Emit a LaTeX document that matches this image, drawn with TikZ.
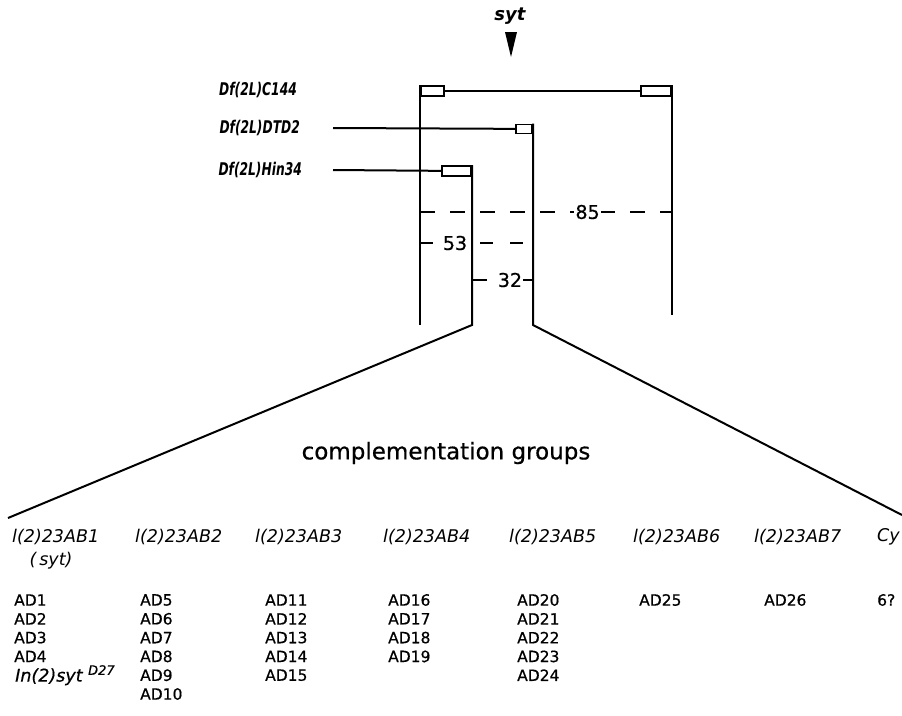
\documentclass[tikz,border=0pt]{standalone}
\usepackage{fontspec}
\setmainfont{DejaVu Sans}
\newfontfamily\dffont[FakeStretch=0.7]{DejaVu Sans}
\newfontfamily\adfont[FakeBold=0.6]{DejaVu Sans}
\begin{document}
\begin{tikzpicture}[x=1pt,y=-1pt,
  ln/.style={line width=2pt},
  thin/.style={line width=1.6pt},
  dsh/.style={line width=2pt,dash pattern=on 15pt off 15pt},
  dflab/.style={font=\dffont\fontsize{17.5}{19}\selectfont\bfseries\itshape,anchor=east,inner sep=0pt},
  hdr/.style={font=\fontsize{17.5}{20}\selectfont\itshape,anchor=west,inner sep=0pt},
  ad/.style={font=\adfont\fontsize{15.5}{18}\selectfont,anchor=west,inner sep=0pt},
  num/.style={font=\adfont\fontsize{19}{21}\selectfont,fill=white,inner sep=1pt},
  box/.style={draw,line width=1.7pt,fill=white,minimum height=10pt,inner sep=0pt}]
\useasboundingbox (0,0) rectangle (902,715);
% syt marker
\node[font=\fontsize{18}{20}\selectfont\bfseries\itshape] (syt) at (510,16) {syt};
\fill (505,32) -- (517,32) -- (511,57) -- cycle;
% deficiency labels
\node[dflab] (dfC) at (297,90) {Df(2L)C144};
\node[dflab] (dfD) at (300,128) {Df(2L)DTD2};
\node[dflab] (dfH) at (302,170) {Df(2L)Hin34};
% coordinates
\coordinate (cL) at (420,85);
\coordinate (cLb) at (420,325);
\coordinate (cR) at (672,85);
\coordinate (cRb) at (672,315);
\coordinate (dS) at (333,128);
\coordinate (dV) at (533,123.5);
\coordinate (dVb) at (533,325);
\coordinate (hS) at (333,170);
\coordinate (hV) at (472,165);
\coordinate (hVb) at (472,325);
\coordinate (fanL) at (8,518);
\coordinate (fanR) at (902,515);
% C144
\draw[thin] (cL) -- (cLb);
\draw[thin] (cR) -- (cRb);
\node[box,minimum width=23pt,anchor=north west] (bC1) at (cL) {};
\node[box,minimum width=30pt,anchor=north east] (bC2) at (cR) {};
\draw[ln] (bC1.east) -- (bC2.west);
% DTD2
\node[box,minimum width=16pt,minimum height=9pt,anchor=north east] (bD) at (dV) {};
\draw[ln] (dS) -- (bD.west);
\draw[ln] (bD.north east) -- (dVb) -- (fanR);
% Hin34
\node[box,minimum width=29pt,anchor=north east] (bH) at (hV) {};
\draw[ln] (hS) -- (bH.west);
\draw[ln] (bH.north east) -- (hVb) -- (fanL);
% dashed size lines
\coordinate (e85a) at (420,212); \coordinate (e85b) at (672,212);
\coordinate (e53a) at (420,243); \coordinate (e53b) at (533,243);
\coordinate (e32a) at (472,280); \coordinate (e32b) at (533,280);
\draw[dsh] (e85a) -- (e85b) node[num,pos=0.665] (n85) {85};
\draw[dsh,dash pattern=on 13pt off 17pt] (e53a) -- (e53b) node[num,pos=0.31] (n53) {53};
\node[num] (n32) at (510,280) {32};
\draw[ln] (e32a) -- ++(15,0);
\draw[ln] (n32.east) -- (e32b);
% complementation groups
\node[font=\adfont\fontsize{23}{26}\selectfont] (cg) at (446,453) {complementation groups};
% headers
\foreach \x/\t [count=\i] in {12/l(2)23AB1,135/l(2)23AB2,255/l(2)23AB3,383/l(2)23AB4,509/l(2)23AB5,633/l(2)23AB6,754/l(2)23AB7,877/Cy}
  \node[hdr] (h\i) at (\x,537) {\t};
\node[font=\fontsize{17.5}{20}\selectfont\itshape] (hsyt) at (51,561) {(\,syt)};
% AD columns
\foreach \t [count=\i from 0] in {AD1,AD2,AD3,AD4}
  \node[ad] (a1\i) at (14,{600+18.8*\i}) {\t};
\node[ad,font=\adfont\fontsize{17.5}{19}\selectfont\itshape] (inv) at (15,{600+18.8*4}) {In(2)syt\ \raisebox{0.7ex}{\fontsize{13}{14}\selectfont D27}};
\foreach \t [count=\i from 0] in {AD5,AD6,AD7,AD8,AD9,AD10}
  \node[ad] (a2\i) at (140,{600+18.8*\i}) {\t};
\foreach \t [count=\i from 0] in {AD11,AD12,AD13,AD14,AD15}
  \node[ad] (a3\i) at (265,{600+18.8*\i}) {\t};
\foreach \t [count=\i from 0] in {AD16,AD17,AD18,AD19}
  \node[ad] (a4\i) at (388,{600+18.8*\i}) {\t};
\foreach \t [count=\i from 0] in {AD20,AD21,AD22,AD23,AD24}
  \node[ad] (a5\i) at (517,{600+18.8*\i}) {\t};
\node[ad] (a60) at (639,600) {AD25};
\node[ad] (a70) at (764,600) {AD26};
\node[ad] (a80) at (877,600) {6?};
\end{tikzpicture}
\end{document}
